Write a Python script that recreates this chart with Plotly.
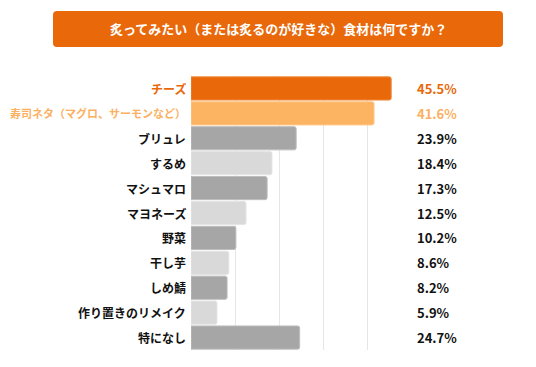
import plotly.graph_objects as go

title = "炙ってみたい（または炙るのが好きな）食材は何ですか？"
categories = ["チーズ", "寿司ネタ（マグロ、サーモンなど）", "ブリュレ", "するめ", "マシュマロ",
              "マヨネーズ", "野菜", "干し芋", "しめ鯖", "作り置きのリメイク", "特になし"]
values = [45.5, 41.6, 23.9, 18.4, 17.3, 12.5, 10.2, 8.6, 8.2, 5.9, 24.7]
bar_colors = ["#E8680A", "#FDB462", "#A6A6A6", "#D9D9D9", "#A6A6A6", "#D9D9D9",
              "#A6A6A6", "#D9D9D9", "#A6A6A6", "#D9D9D9", "#A6A6A6"]
label_colors = ["#E8680A", "#FBB062"] + ["#111111"] * 9
line_colors = ["#F08A3A", "#FDC88A"] + ["#BDBDBD", "#E4E4E4"] * 4 + ["#BDBDBD"]

OFF = 8  # page body margin
W, H = 536 - OFF, 367 - OFF
L, R, T, B = 191 - OFF, 411 - OFF, 76 - OFF, 350 - OFF
FONT = "Noto Sans CJK JP"

fig = go.Figure(go.Bar(
    x=values, y=categories, orientation="h",
    marker=dict(color=bar_colors, line=dict(color=line_colors, width=1), cornerradius=2),
    hoverinfo="skip",
))

def px(x):
    return (x - OFF - L) / (R - L)

def py(y):
    return (B - (y - OFF)) / (B - T)

annotations = []
for c, v, col in zip(categories, values, label_colors):
    annotations.append(dict(x=px(415), xref="paper", y=c, yref="y", text=f"<b>{v}%</b>",
                            showarrow=False, xanchor="left", yanchor="middle",
                            font=dict(family=FONT, size=13, color=col)))
for c, col in zip(categories, label_colors):
    size = 11 if len(c) > 10 else 12
    annotations.append(dict(x=px(188), xref="paper", y=c, yref="y", text=f"<b>{c}</b>",
                            showarrow=False, xanchor="right", yanchor="middle",
                            font=dict(family=FONT, size=size, color=col)))
annotations.append(dict(x=px(278), xref="paper", y=py(29), yref="paper", text=f"<b>{title}</b>",
                        showarrow=False, xanchor="center", yanchor="middle",
                        font=dict(family=FONT, size=13, color="white")))

# rounded title box
x0, x1, y0, y1, r = 53, 503, 11, 47, 4
path = (f"M {px(x0+r)},{py(y0)} L {px(x1-r)},{py(y0)} Q {px(x1)},{py(y0)} {px(x1)},{py(y0+r)} "
        f"L {px(x1)},{py(y1-r)} Q {px(x1)},{py(y1)} {px(x1-r)},{py(y1)} "
        f"L {px(x0+r)},{py(y1)} Q {px(x0)},{py(y1)} {px(x0)},{py(y1-r)} "
        f"L {px(x0)},{py(y0+r)} Q {px(x0)},{py(y0)} {px(x0+r)},{py(y0)} Z")
shapes = [dict(type="path", xref="paper", yref="paper", path=path,
               fillcolor="#E8680A", line=dict(width=0), layer="above")]

fig.update_layout(
    width=W, height=H,
    margin=dict(l=L, r=W - R, t=T, b=H - B, pad=0),
    paper_bgcolor="white", plot_bgcolor="white",
    showlegend=False, bargap=0.07,
    font=dict(family=FONT),
    xaxis=dict(range=[0, 50], dtick=10, showgrid=True, gridcolor="#E6E6E6", gridwidth=1,
               showticklabels=False, zeroline=False, showline=False, fixedrange=True),
    yaxis=dict(autorange="reversed", showticklabels=False, showgrid=False,
               zeroline=False, showline=False, fixedrange=True),
    annotations=annotations, shapes=shapes,
)

fig.write_html("out.html", config={"displayModeBar": False})
